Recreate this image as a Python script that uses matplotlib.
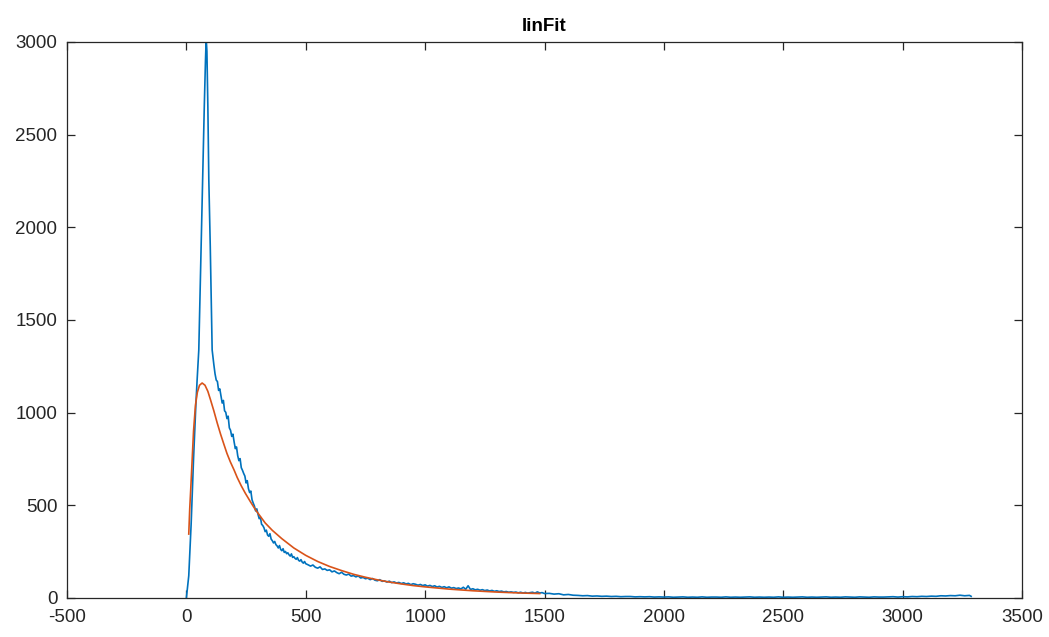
import matplotlib
matplotlib.use("Agg")
import matplotlib.pyplot as plt

title = "linFit"
x_ticks = [-500, 0, 500, 1000, 1500, 2000, 2500, 3000, 3500]
y_ticks = [0, 500, 1000, 1500, 2000, 2500, 3000]

# measured signal (blue)
blue_rise_x = [0, 10, 20, 30, 40, 45, 52, 60, 68, 75, 80, 83, 86, 90, 94, 100, 108, 115, 120]
blue_rise_y = [0, 120, 400, 750, 1050, 1176, 1338, 1800, 2256, 2650, 2900, 3020, 2950, 2650, 2256, 1900, 1338, 1260, 1210]

blue_a_x = list(range(125, 505, 5))
blue_a_y = [1176, 1168, 1120, 1128, 1090, 1052, 1066, 1010, 1002, 968,
            981, 918, 905, 872, 884, 842, 806, 815, 768, 741,
            752, 703, 689, 672, 658, 621, 633, 590, 569, 577,
            530, 512, 496, 470, 481, 452, 428, 437, 398, 391,
            379, 358, 366, 340, 333, 347, 318, 309, 297, 305,
            288, 281, 270, 283, 262, 255, 266, 246, 251, 239,
            244, 233, 226, 238, 219, 223, 214, 209, 218, 203,
            199, 207, 194, 188, 197, 185]

blue_b_x = list(range(510, 1510, 10))
blue_b_y = [179, 172, 178, 166, 161, 168, 154, 157, 149, 152,
            141, 146, 137, 131, 139, 128, 124, 129, 118, 121,
            114, 119, 108, 111, 104, 107, 99, 105, 96, 93,
            99, 90, 92, 86, 91, 83, 87, 81, 84, 78,
            82, 76, 79, 72, 77, 74, 69, 73, 67, 71,
            64, 68, 62, 66, 59, 63, 57, 61, 55, 60,
            53, 56, 51, 54, 49, 58, 47, 66, 46, 50,
            44, 47, 42, 45, 40, 43, 38, 41, 36, 39,
            35, 37, 33, 35, 31, 33, 30, 32, 28, 31,
            27, 30, 26, 29, 31, 26, 33, 27, 29, 24]

blue_c_x = list(range(1520, 3300, 20)) + [3287]
blue_c_y = [25, 21, 23, 17, 19, 15, 14, 12, 13, 10,
            11, 9, 10, 8, 9, 7, 8, 8, 6, 7,
            6, 7, 5, 6, 5, 6, 4, 5, 6, 4,
            5, 4, 6, 4, 5, 5, 4, 6, 4, 5,
            4, 5, 6, 4, 5, 4, 5, 4, 6, 4,
            5, 4, 5, 6, 4, 5, 4, 5, 6, 4,
            5, 4, 6, 5, 4, 6, 5, 4, 6, 5,
            5, 6, 7, 5, 7, 6, 8, 7, 9, 8,
            10, 9, 12, 11, 13, 12, 15, 12, 14, 9]
blue_c_x = blue_c_x[:len(blue_c_y)]

# fitted curve (orange)
fit_x = [10, 14, 18, 24, 30, 38, 46, 55, 66, 78, 90, 101, 115, 129, 143, 157, 170, 184,
         200, 213, 230, 247, 268, 290, 310, 330, 360, 400, 450, 500, 550, 600, 650, 700,
         750, 800, 850, 900, 950, 1000, 1100, 1200, 1300, 1400, 1480]
fit_y = [345, 480, 580, 740, 900, 1040, 1110, 1148, 1160, 1148, 1115, 1070, 1010, 945,
         885, 830, 780, 735, 690, 650, 605, 565, 520, 475, 440, 405, 365, 320, 270, 230,
         197, 170, 148, 128, 112, 98, 86, 76, 67, 60, 48, 39, 32, 27, 24]

blue_x = blue_rise_x + blue_a_x + blue_b_x + blue_c_x
blue_y = blue_rise_y + blue_a_y + blue_b_y + blue_c_y

plt.rcParams['font.family'] = ['Liberation Sans', 'DejaVu Sans']
plt.rcParams['axes.unicode_minus'] = False

fig = plt.figure(figsize=(10.49, 6.37), dpi=100)
ax = fig.add_axes([67/1049, 39/637, (1022-67)/1049, (598-42)/637])

ax.plot(blue_x, blue_y, color='#0072BD', lw=1.2)
ax.plot(fit_x, fit_y, color='#D95319', lw=1.2)

ax.set_xlim(-500, 3500)
ax.set_ylim(0, 3000)
ax.set_xticks(x_ticks)
ax.set_yticks(y_ticks)
ax.tick_params(direction='in', length=6, width=0.9, colors='#262626',
               labelsize=13.5, top=True, right=True)
ax.tick_params(axis='x', pad=8)
ax.tick_params(axis='y', pad=7)
for s in ax.spines.values():
    s.set_color('#262626')
    s.set_linewidth(0.9)
ax.set_title(title, fontsize=13.5, fontweight='bold', color='black', pad=8)

fig.savefig('out.png', dpi=100)
